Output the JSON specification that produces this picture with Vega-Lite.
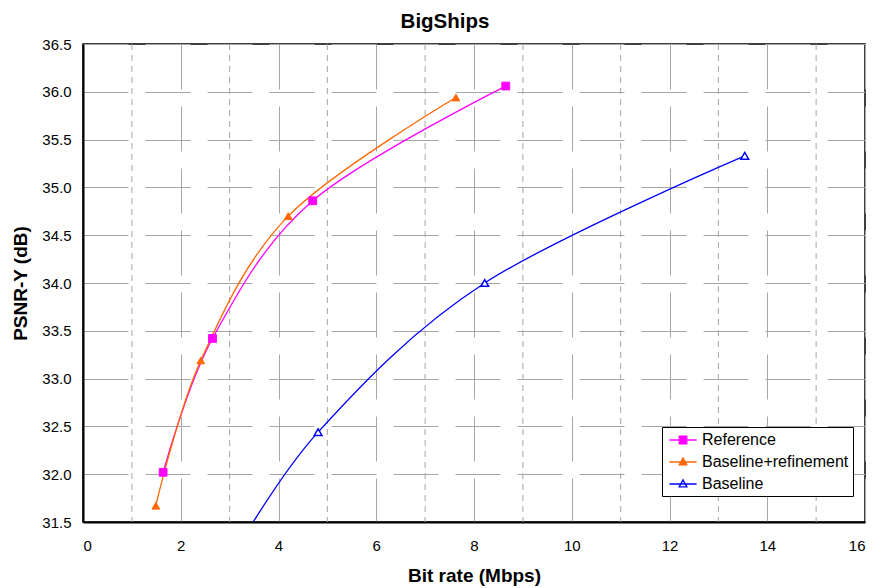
{
  "$schema": "https://vega.github.io/schema/vega-lite/v6.json",
  "width": 782,
  "height": 478,
  "autosize": "none",
  "padding": {"left": 83, "top": 44, "right": 11, "bottom": 66},
  "background": "white",
  "title": {
    "text": "BigShips",
    "font": "Liberation Sans",
    "fontSize": 20.5,
    "fontWeight": "bold",
    "color": "#000",
    "anchor": "middle",
    "dx": -29,
    "baseline": "alphabetic",
    "offset": -11
  },
  "config": {
    "view": {"stroke": "#000", "strokeWidth": 1.5},
    "axis": {
      "labelFont": "Liberation Sans",
      "labelFontSize": 15,
      "labelColor": "#000",
      "titleFont": "Liberation Sans",
      "titleFontSize": 19,
      "titleFontWeight": "bold",
      "titleColor": "#000",
      "domainColor": "#000",
      "domainWidth": 2,
      "gridColor": "#A6A6A6",
      "gridWidth": 1,
      "gridOpacity": 1,
      "gridDash": [45, 17],
      "ticks": false
    }
  },
  "datasets": {
    "curves": [
      {"series": "Reference", "rate": 1.64, "psnr": 32.02},
      {"series": "Reference", "rate": 2.65, "psnr": 33.42},
      {"series": "Reference", "rate": 4.70, "psnr": 34.86},
      {"series": "Reference", "rate": 8.65, "psnr": 36.06},
      {"series": "Baseline+refinement", "rate": 1.49, "psnr": 31.67},
      {"series": "Baseline+refinement", "rate": 2.41, "psnr": 33.19},
      {"series": "Baseline+refinement", "rate": 4.20, "psnr": 34.70},
      {"series": "Baseline+refinement", "rate": 7.63, "psnr": 35.94},
      {"series": "Baseline", "rate": 2.90, "psnr": 31.00},
      {"series": "Baseline", "rate": 4.81, "psnr": 32.44},
      {"series": "Baseline", "rate": 8.22, "psnr": 34.00},
      {"series": "Baseline", "rate": 13.54, "psnr": 35.33}
    ],
    "minor": [
      {"rate": 1}, {"rate": 3}, {"rate": 5}, {"rate": 7}, {"rate": 9},
      {"rate": 11}, {"rate": 13}, {"rate": 15}
    ]
  },
  "layer": [
    {
      "data": {"name": "minor"},
      "mark": {"type": "rule", "color": "#A6A6A6", "strokeWidth": 1, "strokeDash": [6, 5]},
      "encoding": {
        "x": {"field": "rate", "type": "quantitative", "scale": {"domain": [0, 16], "nice": false, "zero": false}}
      }
    },
    {
      "data": {"name": "curves"},
      "mark": {"type": "line", "interpolate": "cardinal", "tension": 0, "strokeWidth": 1.3, "clip": true},
      "encoding": {
        "x": {
          "field": "rate", "type": "quantitative",
          "scale": {"domain": [0, 16], "nice": false, "zero": false},
          "axis": {
            "title": "Bit rate (Mbps)",
            "values": [0, 2, 4, 6, 8, 10, 12, 14, 16],
            "labelPadding": 16,
            "titleY": 53,
            "titleBaseline": "middle"
          }
        },
        "y": {
          "field": "psnr", "type": "quantitative",
          "scale": {"domain": [31.5, 36.5], "nice": false, "zero": false},
          "axis": {
            "title": "PSNR-Y (dB)",
            "values": [31.5, 32, 32.5, 33, 33.5, 34, 34.5, 35, 35.5, 36, 36.5],
            "format": ".1f",
            "labelPadding": 12,
            "titleX": -63,
            "titleBaseline": "middle"
          }
        },
        "color": {
          "field": "series", "type": "nominal",
          "scale": {"domain": ["Reference", "Baseline+refinement", "Baseline"], "range": ["#FF00FF", "#FF6600", "#0000FF"]},
          "legend": {
            "title": null,
            "orient": "none",
            "legendX": 579,
            "legendY": 383,
            "padding": 4,
            "fillColor": "white",
            "strokeColor": "#000",
            "labelFont": "Liberation Sans",
            "labelFontSize": 16,
            "labelColor": "#000",
            "symbolSize": 256,
            "symbolOffset": 8,
            "rowPadding": 5,
            "labelOffset": 10,
            "symbolStrokeWidth": 1.3
          }
        }
      }
    },
    {
      "data": {"name": "curves"},
      "transform": [{"filter": "datum.rate < 0"}],
      "mark": {"type": "point", "filled": true, "strokeWidth": 1.3, "opacity": 1},
      "encoding": {
        "x": {"field": "rate", "type": "quantitative"},
        "y": {"field": "psnr", "type": "quantitative"},
        "shape": {
          "field": "series", "type": "nominal",
          "scale": {
            "domain": ["Reference", "Baseline+refinement", "Baseline"],
            "range": [
              "M-1.7,0H1.7M-0.47,-0.47H0.47V0.47H-0.47Z",
              "M-1.7,0H1.7M0,-0.52L0.48,0.36H-0.48Z",
              "M-1.7,0H1.7M0,-0.52L0.48,0.36H-0.48Z"
            ]
          },
          "legend": null
        },
        "fill": {
          "field": "series", "type": "nominal",
          "scale": {"domain": ["Reference", "Baseline+refinement", "Baseline"], "range": ["#FF00FF", "#FF6600", "#FFFFFF"]},
          "legend": null
        }
      }
    },
    {
      "data": {"name": "curves"},
      "transform": [{"filter": "datum.series === 'Reference'"}],
      "mark": {"type": "point", "shape": "square", "filled": true, "fill": "#FF00FF", "stroke": "#FF00FF", "strokeWidth": 1, "size": 60, "opacity": 1, "clip": true},
      "encoding": {
        "x": {"field": "rate", "type": "quantitative"},
        "y": {"field": "psnr", "type": "quantitative"}
      }
    },
    {
      "data": {"name": "curves"},
      "transform": [{"filter": "datum.series === 'Baseline+refinement'"}],
      "mark": {"type": "point", "shape": "triangle-up", "filled": true, "fill": "#FF6600", "stroke": "#FF6600", "strokeWidth": 1, "size": 60, "opacity": 1, "clip": true},
      "encoding": {
        "x": {"field": "rate", "type": "quantitative"},
        "y": {"field": "psnr", "type": "quantitative"}
      }
    },
    {
      "data": {"name": "curves"},
      "transform": [{"filter": "datum.series === 'Baseline'"}],
      "mark": {"type": "point", "shape": "triangle-up", "filled": false, "fill": "#FFFFFF", "stroke": "#0000FF", "strokeWidth": 1.5, "size": 60, "opacity": 1, "clip": true},
      "encoding": {
        "x": {"field": "rate", "type": "quantitative"},
        "y": {"field": "psnr", "type": "quantitative"}
      }
    }
  ]
}
